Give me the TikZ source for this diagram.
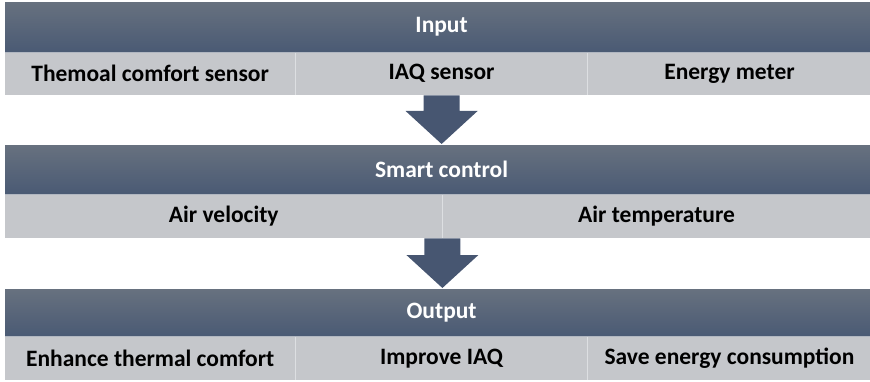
\documentclass[tikz,border=0pt]{standalone}
\usepackage{fontspec}
\setmainfont{Carlito}
\usetikzlibrary{calc}
\definecolor{hdtop}{HTML}{67717F}
\definecolor{hdbot}{HTML}{4A5A74}
\definecolor{cellbg}{HTML}{C5C7CB}
\definecolor{arrowc}{HTML}{475671}
\definecolor{seam}{HTML}{DDDFE2}
\begin{document}
\begin{tikzpicture}[x=1pt,y=-1pt,
  header/.style={top color=hdtop, bottom color=hdbot, minimum width=865pt,
    inner sep=0pt, anchor=north west},
  htext/.style={text=white, inner sep=0pt,
    font=\bfseries\fontsize{23.5}{26}\selectfont},
  cell/.style={fill=cellbg, inner sep=0pt, anchor=north west,
    font=\bfseries\fontsize{23.5}{26}\selectfont},
  divider/.style={draw=seam, line width=0.8pt},
  flow/.style={fill=arrowc}]
\useasboundingbox (0,0) rectangle (870,382);

% Input tier
\node[header, minimum height=50pt] (h1) at (5,2) {};
\node[cell, minimum width=290pt, minimum height=43pt] (r1a) at (5,52) {Themoal comfort sensor};
\node[cell, minimum width=292pt, minimum height=43pt] (r1b) at (r1a.north east) {IAQ sensor};
\node[cell, minimum width=283pt, minimum height=43pt] (r1c) at (r1b.north east) {Energy meter};
\node[htext] (t1) at (h1.center -| r1b.center) {Input};
\draw[divider] (r1a.north east) -- (r1a.south east);
\draw[divider] (r1b.north east) -- (r1b.south east);

% Smart control tier
\node[header, minimum height=49pt] (h2) at (5,145) {};
\node[cell, minimum width=437pt, minimum height=44pt] (r2a) at (5,194) {Air velocity};
\node[cell, minimum width=428pt, minimum height=44pt] (r2b) at (r2a.north east) {Air temperature};
\node[htext] (t2) at (h2.center -| r1b.center) {Smart control};
\draw[divider] (r2a.north east) -- (r2a.south east);

% Output tier
\node[header, minimum height=47pt] (h3) at (5,289) {};
\node[cell, minimum width=290pt, minimum height=44pt] (r3a) at (5,336) {Enhance thermal comfort};
\node[cell, minimum width=292pt, minimum height=44pt] (r3b) at (r3a.north east) {Improve IAQ};
\node[cell, minimum width=283pt, minimum height=44pt] (r3c) at (r3b.north east) {Save energy consumption};
\node[htext] (t3) at (h3.center -| r3b.center) {Output};
\draw[divider] (r3a.north east) -- (r3a.south east);
\draw[divider] (r3b.north east) -- (r3b.south east);

% seams under the header bars
\foreach \h in {h1,h2,h3}
  \draw[draw=seam!70!hdbot, line width=0.8pt] (\h.south west) -- (\h.south east);

% block arrows between tiers
\fill[flow] ($(r1b.south)+(-18,0)$) -- ($(r1b.south)+(18,0)$)
  -- ($(r1b.south |- h2.north)+(18,-34)$) -- ($(r1b.south |- h2.north)+(36,-34)$)
  -- ($(r1b.south |- h2.north)+(0,-1)$)
  -- ($(r1b.south |- h2.north)+(-36,-34)$) -- ($(r1b.south |- h2.north)+(-18,-34)$) -- cycle;
\fill[flow] ($(r2a.south east)+(-18,0)$) -- ($(r2a.south east)+(18,0)$)
  -- ($(r2a.south east |- h3.north)+(18,-34)$) -- ($(r2a.south east |- h3.north)+(36,-34)$)
  -- ($(r2a.south east |- h3.north)+(0,-1)$)
  -- ($(r2a.south east |- h3.north)+(-36,-34)$) -- ($(r2a.south east |- h3.north)+(-18,-34)$) -- cycle;
\end{tikzpicture}
\end{document}
